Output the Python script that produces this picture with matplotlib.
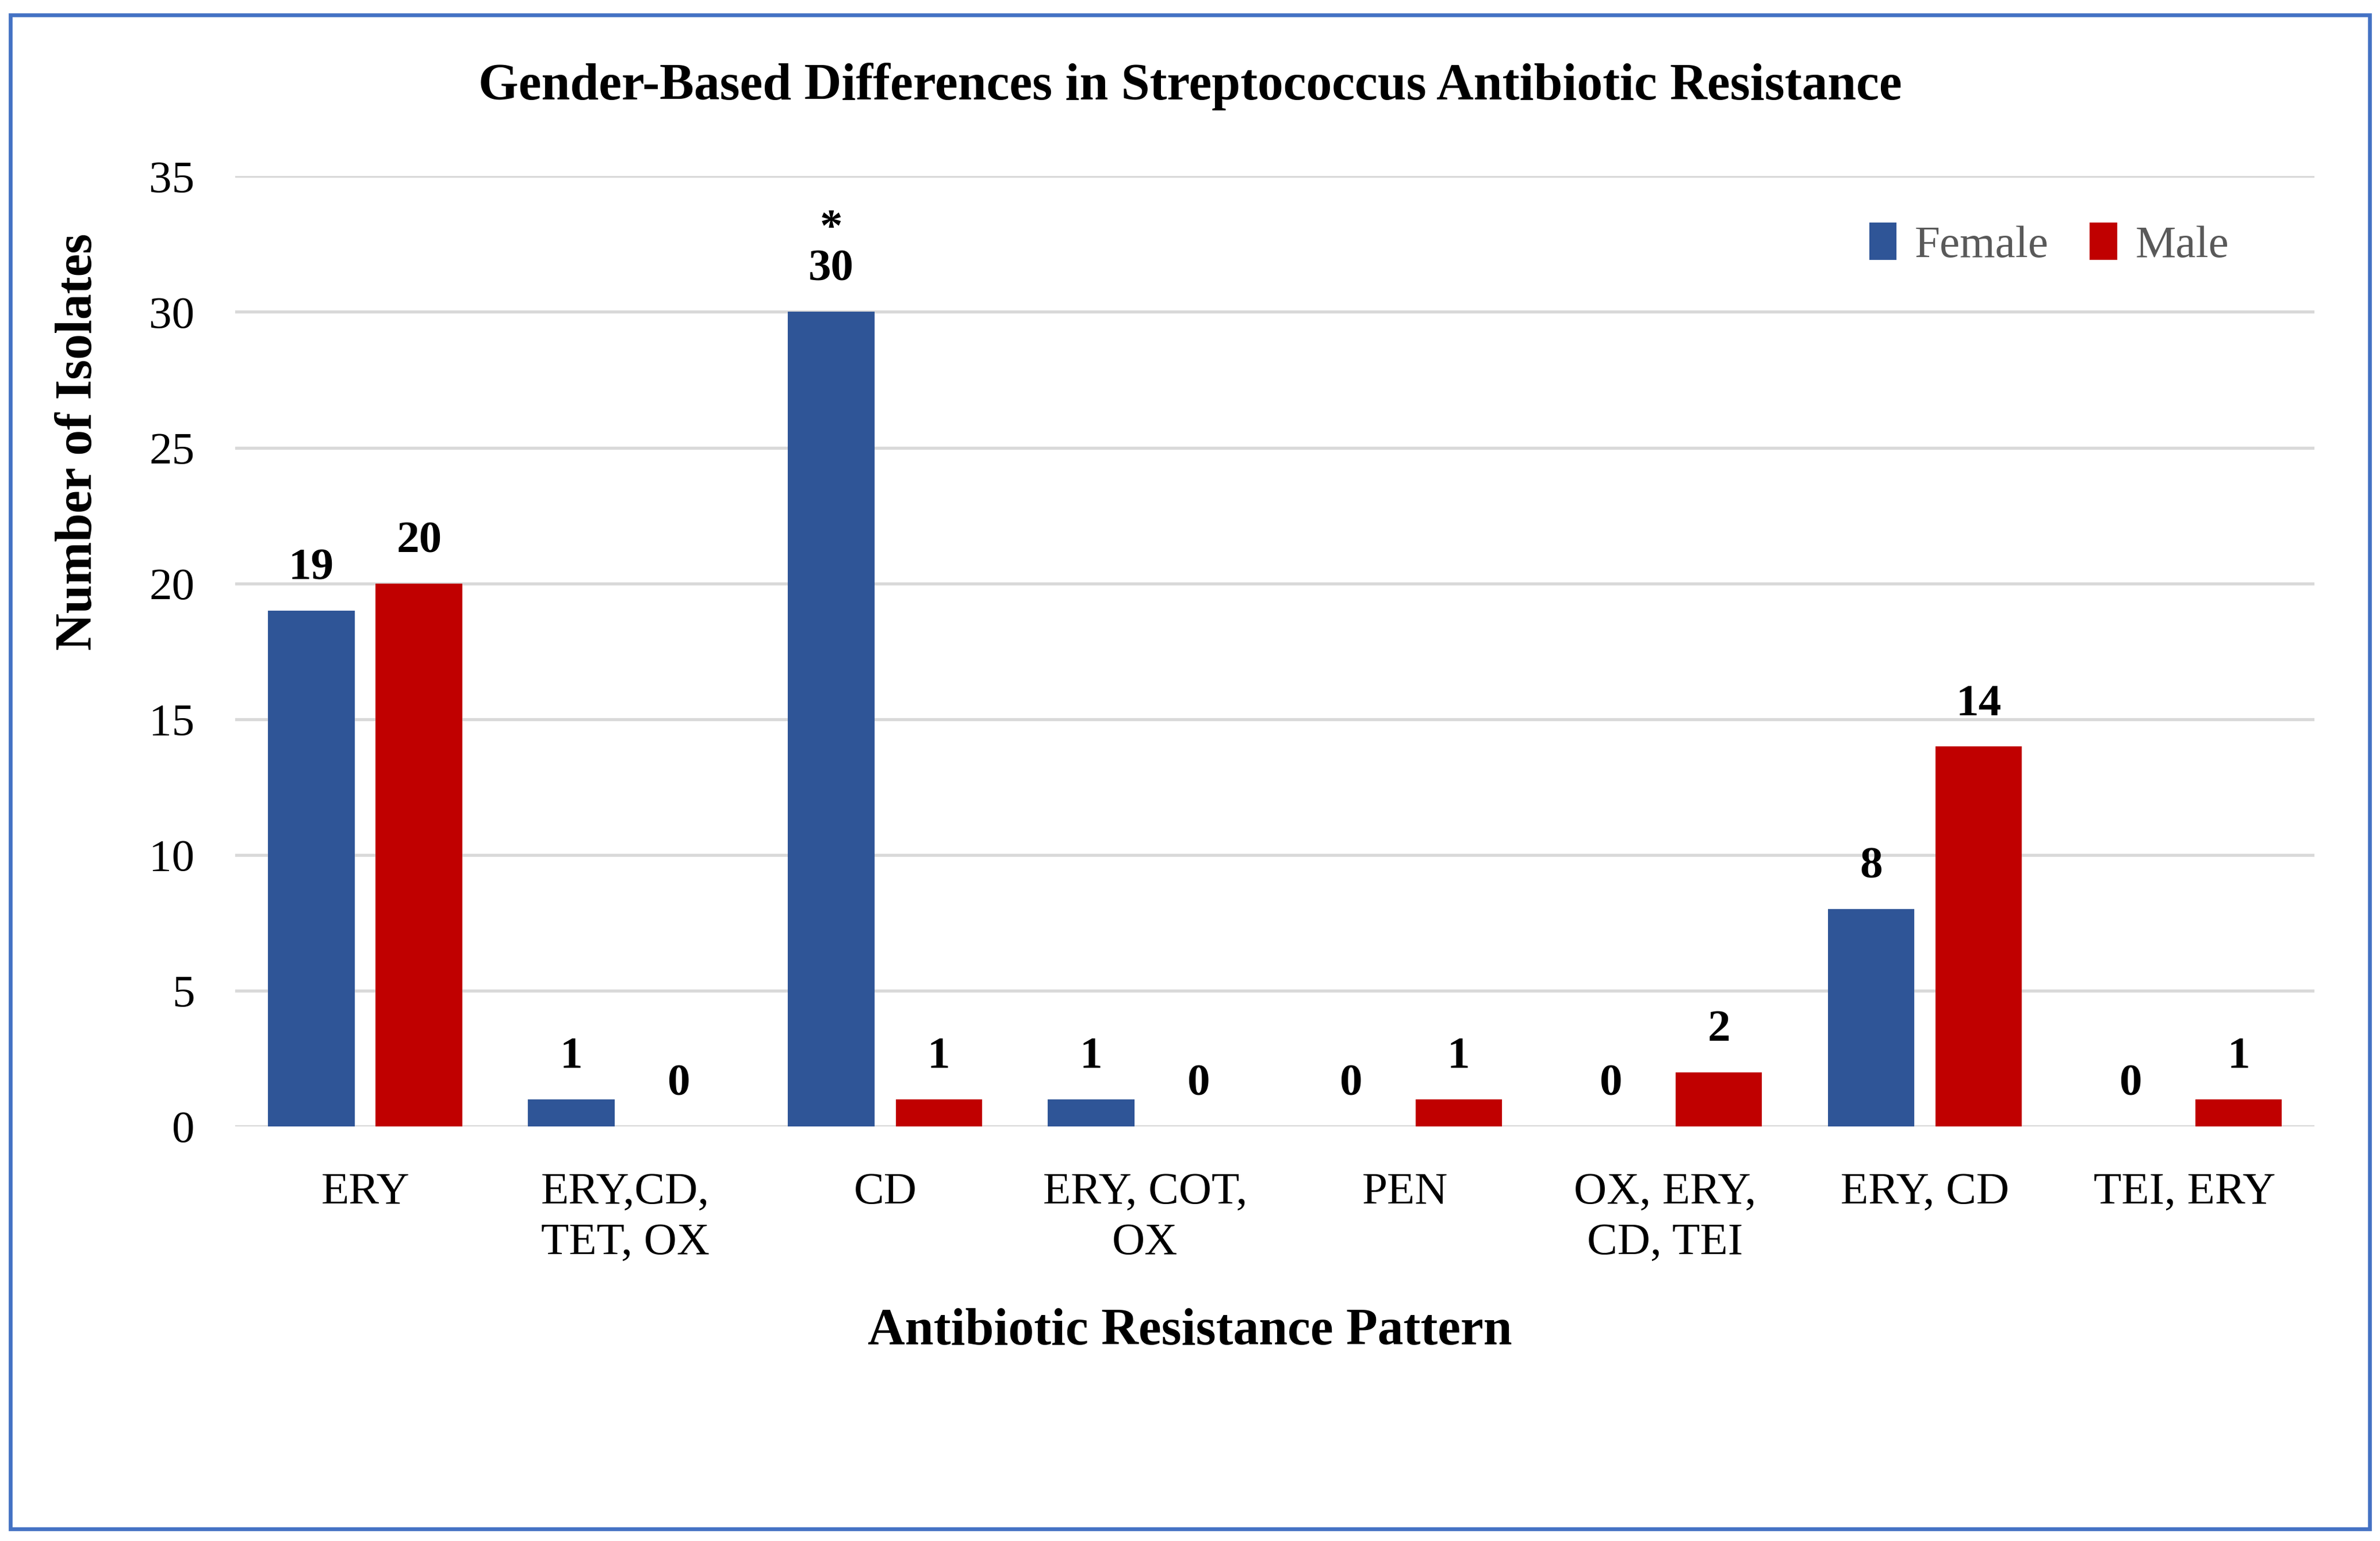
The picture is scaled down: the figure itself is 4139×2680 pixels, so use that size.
import numpy as np
import matplotlib
matplotlib.use("Agg")
import matplotlib.pyplot as plt
from matplotlib.patches import Rectangle

categories = ["ERY", "ERY,CD,\nTET, OX", "CD", "ERY, COT,\nOX", "PEN", "OX, ERY,\nCD, TEI", "ERY, CD", "TEI, ERY"]
female = [19, 1, 30, 1, 0, 0, 8, 0]
male = [20, 0, 1, 0, 1, 2, 14, 1]
star_idx = 2  # significant difference marker

plt.rcParams["font.family"] = ["Liberation Serif", "DejaVu Serif"]
W, H, dpi = 4139, 2680, 300
fig = plt.figure(figsize=(W / dpi, H / dpi), dpi=dpi)
fx = lambda px: px / 1568
fy = lambda py: 1 - py / 1015
fig.patches.append(Rectangle((fx(7), fy(1007)), fx(1561 - 7), (1007 - 10) / 1015,
                             transform=fig.transFigure, fill=False, ec="#4472C4", lw=1.6))

ax = fig.add_axes([fx(155), fy(742), fx(1525 - 155), (742 - 116) / 1015])
x = np.arange(len(categories))
bw, off = 0.333, 0.207
bf = ax.bar(x - off, female, bw, color="#2F5597", label="Female", zorder=3)
bm = ax.bar(x + off, male, bw, color="#C00000", label="Male", zorder=3)
for bars, vals in ((bf, female), (bm, male)):
    for b, v in zip(bars, vals):
        ax.annotate(str(v), (b.get_x() + b.get_width() / 2, v), textcoords="offset points",
                    xytext=(0, 9), ha="center", va="bottom", fontsize=19, fontweight="bold")
ax.annotate("*", (x[star_idx] - off, female[star_idx]), textcoords="offset points",
            xytext=(0, 26), ha="center", va="bottom", fontsize=19, fontweight="bold")

ax.set_ylim(0, 35)
ax.set_xlim(-0.5, len(categories) - 0.5)
ax.set_yticks(range(0, 36, 5))
ax.yaxis.grid(True, color="#D9D9D9", lw=1.3, zorder=0)
ax.set_axisbelow(True)
for s in ax.spines.values():
    s.set_visible(False)
ax.tick_params(length=0, labelsize=19)
ax.tick_params(axis="y", pad=17)
ax.tick_params(axis="x", pad=19)
ax.set_xticks(x)
ax.set_xticklabels(categories, linespacing=1.3)

fig.text(0.5, fy(57), "Gender-Based Differences in Streptococcus Antibiotic Resistance",
         fontsize=21.5, fontweight="bold", ha="center", va="center")
fig.text(0.5, fy(877), "Antibiotic Resistance Pattern", fontsize=21.5, fontweight="bold",
         ha="center", va="center")
fig.text(fx(52), fy(291), "Number of Isolates", fontsize=21.5, fontweight="bold",
         ha="center", va="center", rotation=90)
ax.legend(loc="center", bbox_to_anchor=((1350 - 155) / 1370, (742 - 161) / 626), frameon=False,
          fontsize=19, handlelength=0.6, handleheight=0.9, handletextpad=0.4, columnspacing=0.9,
          ncol=2, labelcolor="#595959")
fig.savefig("out.png", dpi=dpi)
